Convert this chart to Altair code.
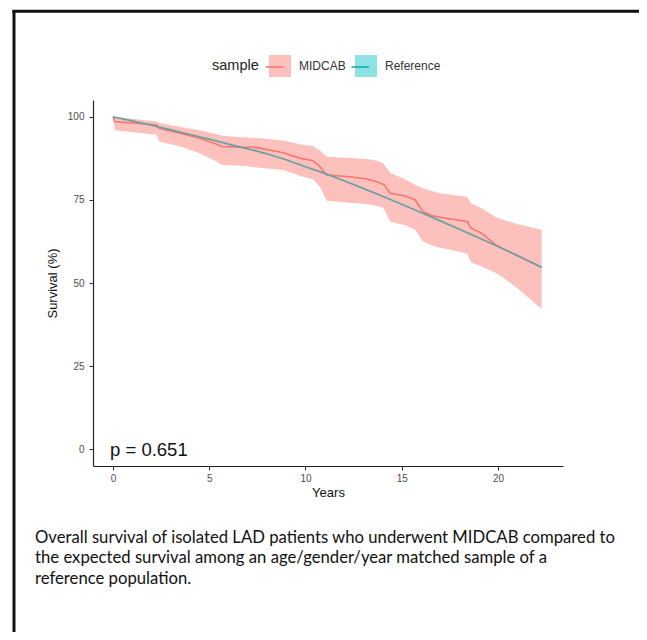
import altair as alt
import pandas as pd

# ---- data ----
groups = ["MIDCAB", "Reference"]

mid_t = [0, 0.1, 2.27, 2.4, 3.5, 4.5, 5.4, 5.65, 6.95, 7.1, 7.6, 8.85, 9.7, 10.4, 10.75, 11.1,
         12.3, 13.2, 13.7, 14.0, 14.1, 14.4, 15.2, 15.7, 16.1, 16.6, 17.0, 18.4, 18.6, 19.15,
         19.9, 20.3, 21.0, 22.27]
mid_s = [100, 98.6, 97.6, 96.6, 95.1, 93.6, 91.8, 91.1, 90.8, 91.0, 90.6, 89.2, 87.6, 86.8, 85.0, 82.5,
         82.0, 81.3, 80.5, 79.8, 79.5, 77.0, 76.2, 75.0, 71.5, 70.2, 69.8, 68.5, 66.5, 65.0,
         61.4, 60.2, 58.3, 54.7]
mid_lo = [100, 96.0, 94.6, 92.6, 91.1, 89.1, 86.5, 85.5, 85.2, 85.0, 84.7, 84.0, 82.3, 81.2, 79.0, 74.8,
          74.2, 73.8, 73.2, 72.8, 72.0, 68.5, 67.3, 66.0, 62.5, 61.3, 60.6, 58.9, 56.2, 55.0,
          53.0, 51.5, 48.5, 42.2]
mid_hi = [100, 100, 98.6, 98.2, 97.0, 96.0, 94.8, 94.3, 93.8, 93.7, 93.6, 92.9, 91.8, 91.2, 90.0, 88.0,
          87.6, 87.3, 86.8, 86.2, 85.5, 83.2, 81.2, 79.6, 78.5, 77.6, 77.0, 76.0, 74.0, 72.5,
          69.8, 69.0, 67.8, 66.0]

ref_t = [0, 1, 2, 3, 4, 5, 6, 7, 8, 9, 10, 11, 12, 13, 14, 15, 16, 17, 18, 19, 20, 21, 22, 22.27]
ref_s = [100, 98.8, 97.5, 96.1, 94.7, 93.3, 91.8, 90.4, 88.9, 87.1, 85.0, 83.0, 80.8, 78.5,
         76.1, 73.7, 71.2, 68.7, 66.2, 63.6, 61.0, 58.3, 55.5, 54.7]

x_ticks = [0, 5, 10, 15, 20]
y_ticks = [0, 25, 50, 75, 100]
p_label = "p = 0.651"
caption_lines = [
    "Overall survival of isolated LAD patients who underwent MIDCAB compared to",
    "the expected survival among an age/gender/year matched sample of a",
    "reference population.",
]

# the line legend uses keys padded with a space so that it stays a separate legend
line_keys = [g + " " for g in groups]

mid_df = pd.DataFrame({"t": mid_t, "s": mid_s, "lo": mid_lo, "hi": mid_hi,
                       "sample": groups[0], "sample_line": line_keys[0]})
ref_df = pd.DataFrame({"t": ref_t, "s": ref_s, "sample": groups[1]})

FONT = "Liberation Sans"
xs = alt.Scale(domain=[-1.04, 23.38], nice=False, zero=False)
ys = alt.Scale(domain=[-5.1, 105.1], nice=False, zero=False)

xax = alt.Axis(values=x_ticks, title="Years", grid=False, domainColor="#222", domainWidth=1.2,
               tickColor="#333", tickSize=4, labelColor="#4D4D4D", labelFontSize=10, labelFont=FONT,
               labelPadding=3, titleFont=FONT, titleFontSize=13, titleFontWeight="normal",
               titleColor="#111", titlePadding=3)
yax = alt.Axis(values=y_ticks, title="Survival (%)", grid=False, domainColor="#222", domainWidth=1.2,
               tickColor="#333", tickSize=4, labelColor="#4D4D4D", labelFontSize=10, labelFont=FONT,
               labelPadding=5, titleFont=FONT, titleFontSize=13, titleFontWeight="normal",
               titleColor="#111", titlePadding=8)

x_enc = alt.X("t:Q", scale=xs, axis=xax)

band = alt.Chart(mid_df).mark_area(opacity=0.45, interpolate="linear").encode(
    x=x_enc,
    y=alt.Y("lo:Q", scale=ys, axis=yax),
    y2="hi:Q",
    fill=alt.Fill("sample:N", scale=alt.Scale(domain=groups, range=["#F8766D", "#00BFC4"]),
                  legend=alt.Legend(orient="none", legendX=119, legendY=-45, direction="horizontal",
                                    title="sample", titleOrient="left", titleFont=FONT,
                                    titleFontSize=14.5, titleFontWeight="normal", titlePadding=10,
                                    titleColor="#222", labelFont=FONT, labelFontSize=12,
                                    labelColor="#333", labelOffset=8, columnPadding=9,
                                    symbolType="square", symbolSize=484, symbolOpacity=0.45,
                                    symbolStrokeWidth=0)),
)

mid_line = alt.Chart(mid_df).mark_line(strokeWidth=1.6).encode(
    x=x_enc,
    y=alt.Y("s:Q", scale=ys, axis=yax),
    stroke=alt.Stroke("sample_line:N", scale=alt.Scale(domain=line_keys, range=["#F8766D", "#1AAAB0"]),
                      legend=alt.Legend(orient="none", legendX=169.7, legendY=-45,
                                        direction="horizontal", title=None, labelExpr="''",
                                        labelOffset=0, columnPadding=61.5,
                                        symbolType="M-0.8,0H0.8", symbolSize=484,
                                        symbolStrokeWidth=1.6, symbolOpacity=1)),
)

ref_line = alt.Chart(ref_df).mark_line(strokeWidth=1.7, color="#6C9EA2").encode(
    x=x_enc,
    y=alt.Y("s:Q", scale=ys, axis=yax),
)

p_text = alt.Chart(pd.DataFrame({"t": [0], "s": [0], "label": [p_label]})).mark_text(
    align="left", baseline="alphabetic", dx=-3, dy=7, font=FONT, fontSize=18.5, color="#111"
).encode(x=x_enc, y=alt.Y("s:Q", scale=ys, axis=yax), text="label:N")

caption = alt.Chart(pd.DataFrame({"c": ["\n".join(caption_lines)]})).mark_text(
    align="left", baseline="alphabetic", lineBreak="\n", lineHeight=20.7,
    font="Lato", fontSize=16.7, color="#111"
).encode(x=alt.value(-58), y=alt.value(442.7), text="c:N")

deco = pd.DataFrame({"k": [1]})
top_border = alt.Chart(deco).mark_rule(strokeWidth=3, color="#111").encode(
    x=alt.value(-80.5), x2=alt.value(560), y=alt.value(-88.7))
left_border = alt.Chart(deco).mark_rule(strokeWidth=3, color="#111").encode(
    x=alt.value(-79), y=alt.value(-90), y2=alt.value(540))

chart = alt.layer(band, mid_line, ref_line, p_text, caption, top_border, left_border).properties(
    width=470, height=366,
    padding={"left": 85, "top": 92, "right": 76, "bottom": 166},
    autosize=alt.AutoSizeParams(type="none"),
    background="white",
).configure_view(stroke=None).resolve_scale(x="shared", y="shared")

chart.save("out.html", embed_options={"renderer": "svg", "actions": False})
